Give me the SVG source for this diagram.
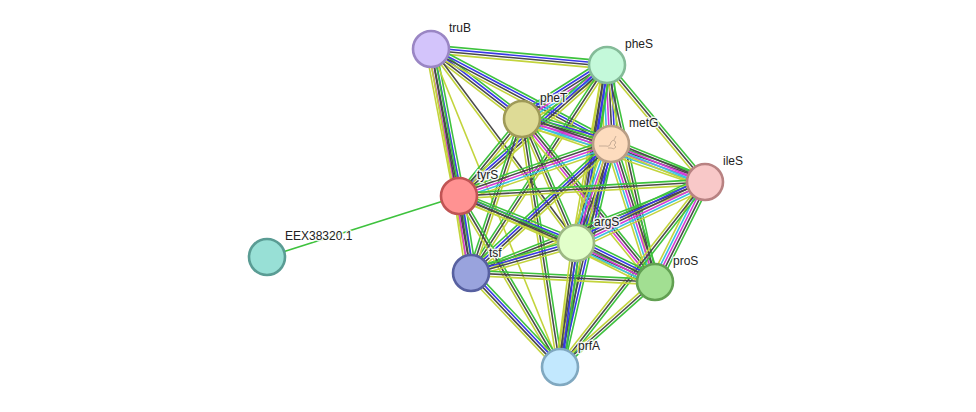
<svg xmlns="http://www.w3.org/2000/svg" xmlns:xlink="http://www.w3.org/1999/xlink" width="976" height="412" viewBox="0 0 976 412">
<style>
.g{stroke:#3ec23e}.b{stroke:#3838e6}.k{stroke:#4a4a4a}.m{stroke:#d43cd4}.c{stroke:#3cbfe2}.y{stroke:#c3d43c}
line{stroke-width:1.6;fill:none}
.node circle{stroke-width:2.6}
text{font-family:"Liberation Sans",Arial,sans-serif;font-size:12px;fill:#222;stroke:#fff;stroke-width:3;stroke-opacity:0.85;stroke-linejoin:round;paint-order:stroke}
</style>
<defs>
<g id="y"><line class="y" x2="1"/></g>
<g id="ky"><line class="k" x2="1" y1="-1.3" y2="-1.3"/><line class="y" x2="1" y1="1.3" y2="1.3"/></g>
<g id="gky"><line class="g" x2="1" y1="-2.6" y2="-2.6"/><line class="k" x2="1"/><line class="y" x2="1" y1="2.6" y2="2.6"/></g>
<g id="gbky"><line class="g" x2="1" y1="-3.9" y2="-3.9"/><line class="b" x2="1" y1="-1.3" y2="-1.3"/><line class="k" x2="1" y1="1.3" y2="1.3"/><line class="y" x2="1" y1="3.9" y2="3.9"/></g>
<g id="gkmy"><line class="g" x2="1" y1="-3.9" y2="-3.9"/><line class="k" x2="1" y1="-1.3" y2="-1.3"/><line class="m" x2="1" y1="1.3" y2="1.3"/><line class="y" x2="1" y1="3.9" y2="3.9"/></g>
<g id="gbkmy"><line class="g" x2="1" y1="-5.2" y2="-5.2"/><line class="b" x2="1" y1="-2.6" y2="-2.6"/><line class="k" x2="1"/><line class="m" x2="1" y1="2.6" y2="2.6"/><line class="y" x2="1" y1="5.2" y2="5.2"/></g>
<g id="gkmcy"><line class="g" x2="1" y1="-5.2" y2="-5.2"/><line class="k" x2="1" y1="-2.6" y2="-2.6"/><line class="m" x2="1"/><line class="c" x2="1" y1="2.6" y2="2.6"/><line class="y" x2="1" y1="5.2" y2="5.2"/></g>
<g id="gbkmcy"><line class="g" x2="1" y1="-6.5" y2="-6.5"/><line class="b" x2="1" y1="-3.9" y2="-3.9"/><line class="k" x2="1" y1="-1.3" y2="-1.3"/><line class="m" x2="1" y1="1.3" y2="1.3"/><line class="c" x2="1" y1="3.9" y2="3.9"/><line class="y" x2="1" y1="6.5" y2="6.5"/></g>
</defs>
<rect width="976" height="412" fill="#fff"/>
<g id="edges">
<line class="g" x1="267" y1="257" x2="459" y2="196"/>
<use href="#gbky" transform="matrix(176 16 -0.0905 0.9959 431 49)"/>
<use href="#gbky" transform="matrix(91 70 -0.6097 0.7926 431 49)"/>
<use href="#gbky" transform="matrix(180 95 -0.4668 0.8844 431 49)"/>
<use href="#gbkmy" transform="matrix(28 147 -0.9824 0.1871 431 49)"/>
<use href="#gky" transform="matrix(40 224 -0.9844 0.1758 431 49)"/>
<use href="#ky" transform="matrix(145 194 -0.8010 0.5987 431 49)"/>
<use href="#y" transform="matrix(129 318 -0.9267 0.3759 431 49)"/>
<use href="#gbkmcy" transform="matrix(85 -54 0.5362 0.8441 522 119)"/>
<use href="#gbkmcy" transform="matrix(4 79 -0.9987 0.0506 607 65)"/>
<use href="#gky" transform="matrix(98 117 -0.7666 0.6421 607 65)"/>
<use href="#gbky" transform="matrix(148 -131 0.6628 0.7488 459 196)"/>
<use href="#gky" transform="matrix(136 -208 0.8370 0.5472 471 273)"/>
<use href="#gbky" transform="matrix(-31 178 -0.9852 -0.1716 607 65)"/>
<use href="#gky" transform="matrix(48 217 -0.9764 0.2160 607 65)"/>
<use href="#gbky" transform="matrix(-47 302 -0.9881 -0.1538 607 65)"/>
<use href="#gbkmcy" transform="matrix(89 25 -0.2704 0.9628 522 119)"/>
<use href="#gkmcy" transform="matrix(183 63 -0.3255 0.9455 522 119)"/>
<use href="#gky" transform="matrix(63 -77 0.7740 0.6332 459 196)"/>
<use href="#gky" transform="matrix(51 -154 0.9493 0.3144 471 273)"/>
<use href="#gky" transform="matrix(54 124 -0.9168 0.3993 522 119)"/>
<use href="#gkmy" transform="matrix(133 163 -0.7748 0.6322 522 119)"/>
<use href="#gky" transform="matrix(38 248 -0.9885 0.1515 522 119)"/>
<use href="#gkmcy" transform="matrix(94 38 -0.3748 0.9271 611 144)"/>
<use href="#gkmcy" transform="matrix(152 -52 0.3237 0.9462 459 196)"/>
<use href="#gbky" transform="matrix(140 -129 0.6776 0.7354 471 273)"/>
<use href="#gbkmcy" transform="matrix(-35 99 -0.9429 -0.3333 611 144)"/>
<use href="#gkmcy" transform="matrix(44 138 -0.9528 0.3038 611 144)"/>
<use href="#gbky" transform="matrix(-51 223 -0.9748 -0.2229 611 144)"/>
<use href="#gky" transform="matrix(246 -14 0.0568 0.9984 459 196)"/>
<use href="#gky" transform="matrix(234 -91 0.3624 0.9320 471 273)"/>
<use href="#gbkmcy" transform="matrix(129 -61 0.4275 0.9040 576 243)"/>
<use href="#gkmcy" transform="matrix(-50 100 -0.8944 -0.4472 705 182)"/>
<use href="#gky" transform="matrix(-145 185 -0.7871 -0.6169 705 182)"/>
<use href="#gbkmy" transform="matrix(12 77 -0.9881 0.1540 459 196)"/>
<use href="#gbky" transform="matrix(117 47 -0.3728 0.9279 459 196)"/>
<use href="#gky" transform="matrix(196 86 -0.4018 0.9157 459 196)"/>
<use href="#gky" transform="matrix(101 171 -0.8610 0.5086 459 196)"/>
<use href="#gbky" transform="matrix(105 -30 0.2747 0.9615 471 273)"/>
<use href="#gky" transform="matrix(184 9 -0.0489 0.9988 471 273)"/>
<use href="#gbky" transform="matrix(89 94 -0.7262 0.6875 471 273)"/>
<use href="#gbkmcy" transform="matrix(79 39 -0.4427 0.8967 576 243)"/>
<use href="#gbky" transform="matrix(-16 124 -0.9918 -0.1280 576 243)"/>
<use href="#gky" transform="matrix(-95 85 -0.6668 -0.7452 655 282)"/>
</g>
<g id="truB" class="node"><circle cx="431" cy="49" r="18" fill="#d3c4fb" stroke="#9a86c4"/><text x="449" y="32">truB</text></g>
<g id="pheS" class="node"><circle cx="607" cy="65" r="18" fill="#c4f9da" stroke="#84bb98"/><text x="625" y="48">pheS</text></g>
<g id="pheT" class="node"><circle cx="522" cy="119" r="18" fill="#dedb96" stroke="#9f9a58"/><text x="540" y="102">pheT</text></g>
<g id="metG" class="node"><circle cx="611" cy="144" r="18" fill="#fddcbe" stroke="#b89e86"/><path d="M599 146 h7 q2 1 4 -1 l1 -3 q2 -3 4 -1 q2 2 -1 4 l2 2 q-2 3 -5 1 h-3 m6 -8 l2 -4" fill="none" stroke="#a58f7c" stroke-width="0.6"/><text x="629" y="127">metG</text></g>
<g id="ileS" class="node"><circle cx="705" cy="182" r="18" fill="#f8c8c8" stroke="#b88282"/><text x="723" y="165">ileS</text></g>
<g id="tyrS" class="node"><circle cx="459" cy="196" r="18" fill="#ff9292" stroke="#c05454"/><text x="477" y="179">tyrS</text></g>
<g id="EEX38320.1" class="node"><circle cx="267" cy="257" r="18" fill="#98e0d6" stroke="#5a9c94"/><text x="285" y="240">EEX38320.1</text></g>
<g id="argS" class="node"><circle cx="576" cy="243" r="18" fill="#e2ffca" stroke="#9db884"/><text x="594" y="226">argS</text></g>
<g id="tsf" class="node"><circle cx="471" cy="273" r="18" fill="#99a3dd" stroke="#5760a0"/><text x="489" y="257">tsf</text></g>
<g id="proS" class="node"><circle cx="655" cy="282" r="18" fill="#a2df92" stroke="#62a052"/><text x="673" y="265">proS</text></g>
<g id="prfA" class="node"><circle cx="560" cy="367" r="18" fill="#c2e8fe" stroke="#80a8c0"/><text x="578" y="350">prfA</text></g>
</svg>
